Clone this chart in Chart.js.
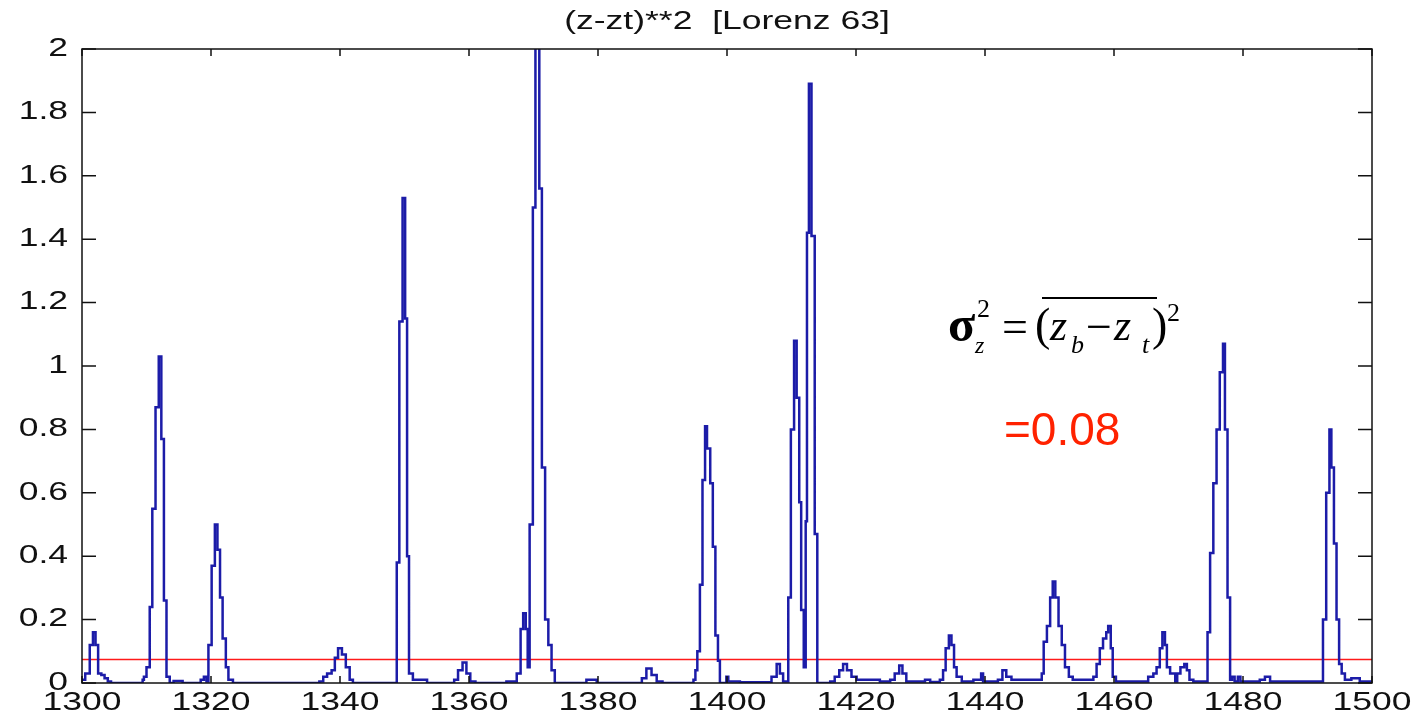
<!DOCTYPE html>
<html>
<head>
<meta charset="utf-8">
<title>(z-zt)**2 [Lorenz 63]</title>
<script src="https://cdn.jsdelivr.net/npm/chart.js@4.4.1/dist/chart.umd.min.js"></script>
<style>
	html, body { margin: 0; padding: 0; background: #fff; }
	#chart { display: block; }
</style>
</head>
<body>
<canvas id="chart" width="1411" height="718"></canvas>
<script>
	// step starts (model time) and squared error held from that time on
	var times = [
		1300.0, 1300.5, 1301.2, 1301.7, 1302.1, 1302.5, 1303.0, 1303.5, 1304.0, 1304.5,
		1309.4, 1309.6, 1310.0, 1310.5, 1310.9, 1311.4, 1311.9, 1312.3, 1312.7, 1313.1, 1313.6, 1314.2, 1315.6,
		1318.4, 1318.9, 1319.3, 1319.6, 1320.1, 1320.6, 1321.0, 1321.4, 1321.8, 1322.3, 1322.7, 1323.4,
		1336.8, 1337.4, 1338.0, 1338.7, 1339.2, 1339.7, 1340.3, 1340.9, 1341.5, 1342.0,
		1348.8, 1349.2, 1349.7, 1350.1, 1350.4, 1350.7, 1351.3, 1353.5,
		1357.7, 1358.3, 1359.0, 1359.6, 1360.2, 1361.0,
		1365.8, 1367.4, 1368.0, 1368.4, 1368.8, 1369.1, 1369.4, 1369.9, 1370.3, 1370.9, 1371.3, 1371.8, 1372.3, 1372.8, 1373.3,
		1378.2, 1379.8,
		1386.8, 1387.5, 1388.3, 1389.1, 1390.0,
		1394.8, 1395.1, 1395.4, 1395.8, 1396.2, 1396.6, 1396.9, 1397.4, 1397.8, 1398.2, 1398.6, 1398.9, 1399.9, 1400.2, 1402.0,
		1406.9, 1407.7, 1408.2, 1408.7, 1409.5, 1409.9, 1410.4, 1410.8, 1411.2, 1411.5, 1411.9, 1412.2, 1412.4, 1412.7, 1413.1, 1413.6, 1414.0,
		1416.0, 1416.7, 1417.4, 1418.0, 1418.6, 1419.3, 1420.1, 1423.7,
		1425.3, 1426.0, 1426.7, 1427.2, 1427.8, 1430.7, 1431.5,
		1433.0, 1433.5, 1433.9, 1434.4, 1434.8, 1435.2, 1435.6, 1436.4, 1438.2, 1439.4, 1439.7,
		1442.0, 1442.7, 1443.3, 1444.1,
		1448.8, 1449.1, 1449.6, 1450.1, 1450.5, 1450.9, 1451.4, 1451.9, 1452.4, 1453.0, 1453.6,
		1456.8, 1457.3, 1457.8, 1458.3, 1458.8, 1459.1, 1459.5, 1459.8, 1460.3,
		1465.3, 1466.1, 1466.6, 1467.1, 1467.5, 1467.9, 1468.2, 1468.7, 1469.5, 1469.8, 1470.3, 1470.9, 1471.3, 1471.7, 1472.3,
		1474.5, 1474.9, 1475.4, 1475.9, 1476.4, 1476.9, 1477.2, 1477.6, 1478.0, 1478.3, 1478.7, 1479.2, 1479.6,
		1482.6, 1483.4, 1484.2,
		1492.4, 1492.9, 1493.4, 1493.7, 1494.1, 1494.5, 1494.9, 1495.3, 1495.8, 1496.8, 1498.1, 1500.0
	];
	var sqErr = [
		0.01, 0.03, 0.12, 0.16, 0.12, 0.03, 0.025, 0.015, 0.005, 0,
		0.01, 0.02, 0.05, 0.24, 0.55, 0.87, 1.03, 0.77, 0.26, 0.02, 0, 0.006, 0,
		0.01, 0.02, 0.005, 0.12, 0.37, 0.50, 0.42, 0.27, 0.14, 0.05, 0.01, 0,
		0.005, 0.02, 0.03, 0.04, 0.08, 0.11, 0.09, 0.05, 0.01, 0,
		0.38, 1.14, 1.53, 1.15, 0.40, 0.03, 0.01, 0,
		0.01, 0.04, 0.065, 0.03, 0.005, 0,
		0.005, 0.03, 0.17, 0.22, 0.17, 0.05, 0.50, 1.50, 2.2, 1.56, 0.68, 0.20, 0.12, 0.04, 0,
		0.01, 0,
		0.015, 0.046, 0.025, 0.005, 0,
		0.01, 0.04, 0.10, 0.31, 0.64, 0.81, 0.74, 0.63, 0.43, 0.15, 0.07, 0, 0.02, 0.005, 0.002,
		0.02, 0.06, 0.03, 0.005, 0.27, 0.80, 1.08, 0.90, 0.57, 0.23, 0.05, 0.51, 1.42, 1.89, 1.41, 0.47, 0,
		0.005, 0.02, 0.04, 0.06, 0.04, 0.02, 0.01, 0.005,
		0.01, 0.03, 0.055, 0.03, 0.005, 0.01, 0.003,
		0.01, 0.04, 0.11, 0.15, 0.12, 0.05, 0.02, 0.005, 0.01, 0.03, 0.005,
		0.01, 0.04, 0.02, 0.01,
		0.03, 0.13, 0.18, 0.27, 0.32, 0.27, 0.18, 0.12, 0.05, 0.02, 0.01,
		0.02, 0.06, 0.11, 0.14, 0.16, 0.18, 0.11, 0.02, 0.005,
		0.02, 0.03, 0.05, 0.11, 0.16, 0.12, 0.05, 0.03, 0.005, 0.03, 0.05, 0.06, 0.04, 0.01, 0.005,
		0.16, 0.41, 0.63, 0.80, 0.98, 1.07, 0.80, 0.27, 0.01, 0.02, 0.005, 0.02, 0.005,
		0.01, 0.02, 0.005,
		0.20, 0.60, 0.80, 0.68, 0.44, 0.20, 0.06, 0.03, 0.01, 0.015, 0.005, 0.005
	];
	var meanErr = 0.074;
	var xTicks = [1300, 1320, 1340, 1360, 1380, 1400, 1420, 1440, 1460, 1480, 1500];
	var yTicks = [0, 0.2, 0.4, 0.6, 0.8, 1, 1.2, 1.4, 1.6, 1.8, 2];

	var TEXT_STRETCH = 1.42;

	function points(){
		var out = [];
		for (var i = 0; i < times.length; i++) {
			out.push({ x: times[i], y: sqErr[i] });
		}
		return out;
	}

	// the old figure has its axis text drawn wide, so stretch fillText while chart.js draws
	var wideText = {
		id: 'wideText',
		beforeDraw: function(chart){
			var ctx = chart.ctx;
			ctx._plainFill = ctx.fillText;
			ctx.fillText = function(txt, x, y, w){
				this.save();
				this.translate(x, y);
				this.scale(TEXT_STRETCH, 1);
				if (w === undefined) this._plainFill(txt, 0, 0);
				else this._plainFill(txt, 0, 0, w);
				this.restore();
			};
		},
		afterDraw: function(chart){
			chart.ctx.fillText = chart.ctx._plainFill;
		}
	};

	// matlab style box with ticks pointing inwards
	var boxTicks = {
		id: 'boxTicks',
		afterDraw: function(chart){
			var ctx = chart.ctx, a = chart.chartArea;
			var xs = chart.scales.x, ys = chart.scales.y;
			ctx.save();
			ctx.strokeStyle = '#111';
			ctx.lineWidth = 1.5;
			ctx.strokeRect(a.left, a.top, a.right - a.left, a.bottom - a.top);
			ctx.beginPath();
			xs.ticks.forEach(function(t){
				var px = xs.getPixelForValue(t.value);
				ctx.moveTo(px, a.bottom); ctx.lineTo(px, a.bottom - 7);
				ctx.moveTo(px, a.top); ctx.lineTo(px, a.top + 7);
			});
			ys.ticks.forEach(function(t){
				var py = ys.getPixelForValue(t.value);
				ctx.moveTo(a.left, py); ctx.lineTo(a.left + 14, py);
				ctx.moveTo(a.right, py); ctx.lineTo(a.right - 14, py);
			});
			ctx.stroke();
			ctx.restore();
		}
	};

	// formula and value pasted on the slide
	var notes = {
		id: 'notes',
		afterDraw: function(chart){
			var ctx = chart.ctx;
			ctx.save();
			ctx.fillStyle = '#000';
			ctx.textBaseline = 'alphabetic';
			ctx.textAlign = 'left';
			var serif = '"Liberation Serif", "Times New Roman", serif';
			ctx.font = 'bold 50px ' + serif;
			ctx.fillText('\u03c3', 948, 341);
			ctx.font = '26px ' + serif;
			ctx.fillText('2', 977, 317);
			ctx.font = 'italic 24px ' + serif;
			ctx.fillText('z', 975, 353);
			ctx.font = '46px ' + serif;
			ctx.fillText('=', 1002, 342);
			ctx.fillText('(', 1035, 340);
			ctx.font = 'italic 44px ' + serif;
			ctx.fillText('z', 1050, 340);
			ctx.font = 'italic 26px ' + serif;
			ctx.fillText('b', 1071, 353);
			ctx.font = '46px ' + serif;
			ctx.fillText('\u2212', 1086, 342);
			ctx.font = 'italic 44px ' + serif;
			ctx.fillText('z', 1114, 340);
			ctx.font = 'italic 26px ' + serif;
			ctx.fillText('t', 1142, 353);
			ctx.font = '46px ' + serif;
			ctx.fillText(')', 1152, 340);
			ctx.font = '26px ' + serif;
			ctx.fillText('2', 1167, 321);
			ctx.strokeStyle = '#000';
			ctx.lineWidth = 2;
			ctx.beginPath();
			ctx.moveTo(1042, 298); ctx.lineTo(1157, 298);
			ctx.stroke();

			ctx.fillStyle = '#ff2200';
			ctx.font = '46px "Liberation Sans", Arial, sans-serif';
			ctx.fillText('=0.08', 1004, 445);
			ctx.restore();
		}
	};

	function draw(){
		var ctx = document.getElementById('chart').getContext('2d');
		var axisFont = { family: '"Liberation Sans", Arial, sans-serif', size: 25 };
		var myChart = new Chart(ctx, {
			type: 'line',
			data: {
				datasets: [{
					label: '(z-zt)**2',
					data: points(),
					borderColor: '#1c1ca8',
					borderWidth: 2.5,
					pointRadius: 0,
					stepped: 'before',
					fill: false,
					clip: 0
				}, {
					label: 'mean',
					data: [{ x: 1300, y: meanErr }, { x: 1500, y: meanErr }],
					borderColor: '#ff1a1a',
					borderWidth: 1.5,
					pointRadius: 0,
					fill: false
				}]
			},
			options: {
				responsive: false,
				animation: false,
				layout: { padding: { left: 0, right: 39, top: 0, bottom: 0 } },
				plugins: {
					legend: { display: false },
					tooltip: { enabled: false },
					title: {
						display: true,
						fullSize: false,
						text: '(z-zt)**2  [Lorenz 63]',
						color: '#111',
						font: { family: '"Liberation Sans", Arial, sans-serif', size: 25, weight: 'normal' },
						padding: { top: 7, bottom: 12 }
					}
				},
				scales: {
					x: {
						type: 'linear',
						min: 1300,
						max: 1500,
						afterFit: function(s){ s.height = 35; },
						afterBuildTicks: function(s){ s.ticks = xTicks.map(function(v){ return { value: v }; }); },
						ticks: {
							color: '#111',
							font: axisFont,
							padding: 5,
							maxRotation: 0,
							autoSkip: false,
							callback: function(v){ return String(v); }
						},
						grid: { display: false, drawTicks: false },
						border: { display: false }
					},
					y: {
						min: 0,
						max: 2,
						afterFit: function(s){ s.width = 82; },
						afterBuildTicks: function(s){ s.ticks = yTicks.map(function(v){ return { value: v }; }); },
						ticks: {
							color: '#111',
							font: axisFont,
							padding: 14,
							autoSkip: false,
							callback: function(v){ return String(Math.round(v * 10) / 10); }
						},
						grid: { display: false, drawTicks: false },
						border: { display: false }
					}
				}
			},
			plugins: [wideText, boxTicks, notes]
		});
	}

	draw();
</script>
</body>
</html>
